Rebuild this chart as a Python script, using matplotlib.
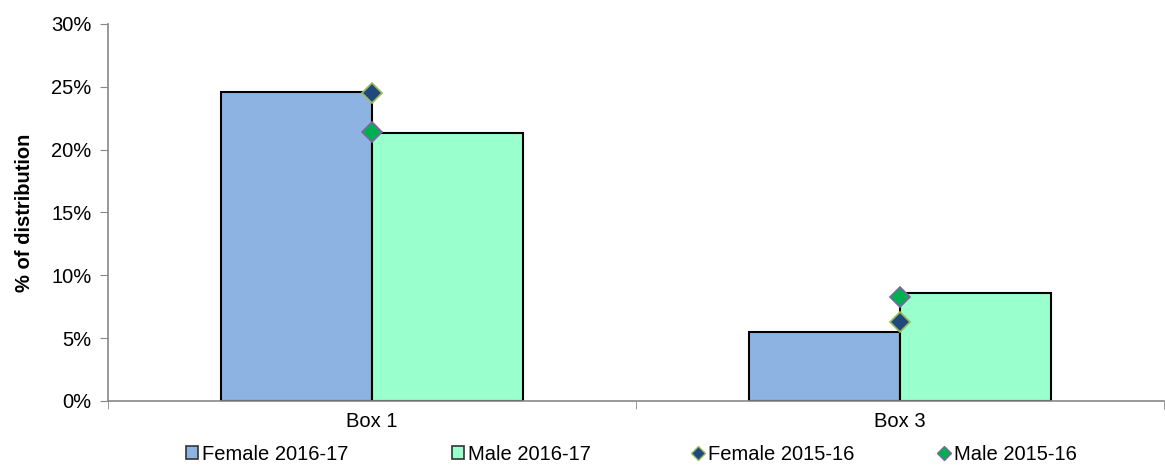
import matplotlib
matplotlib.use("Agg")
import matplotlib.pyplot as plt
from matplotlib.patches import Patch
from matplotlib.lines import Line2D
from matplotlib.ticker import FuncFormatter, MultipleLocator
import numpy as np

plt.rcParams['font.family'] = ['Liberation Sans', 'DejaVu Sans']

categories = ["Box 1", "Box 3"]
female_1617 = [24.6, 5.5]
male_1617 = [21.35, 8.6]
female_1516 = [24.5, 6.3]
male_1516 = [21.4, 8.3]
y_ticks = [0, 5, 10, 15, 20, 25, 30]

FS = 14.5
fig = plt.figure(figsize=(11.65, 4.66), dpi=100)
ax = fig.add_axes([108/1165, 1-401/466, (1164-108)/1165, (401-24)/466])

x = np.arange(len(categories))
w = 0.2855
c_f = '#8DB3E2'
c_m = '#99FFCC'
ax.bar(x - w/2, female_1617, w, color=c_f, edgecolor='black', linewidth=1.5, zorder=2)
ax.bar(x + w/2, male_1617, w, color=c_m, edgecolor='black', linewidth=1.5, zorder=2)
ax.plot(x, female_1516, linestyle='none', marker='D', markersize=10,
        markerfacecolor='#1F497D', markeredgecolor='#9BBB59', markeredgewidth=1.2, zorder=4)
ax.plot(x, male_1516, linestyle='none', marker='D', markersize=10,
        markerfacecolor='#00B050', markeredgecolor='#8064A2', markeredgewidth=1.2, zorder=4)

ax.set_xlim(-0.5, 1.47)
ax.set_ylim(0, 30)
ax.set_yticks(y_ticks)
ax.yaxis.set_major_formatter(FuncFormatter(lambda v, p: f"{int(v)}%"))
ax.set_xticks(x)
ax.set_xticklabels(categories, fontsize=FS)
ax.set_xticks([-0.5, 0.5, 1.5], minor=True)
ax.tick_params(axis='x', which='major', length=0, pad=8)
ax.tick_params(axis='x', which='minor', length=6, direction='out', color='#888888')
ax.tick_params(axis='y', length=6, direction='out', color='#888888', labelsize=FS, pad=6)
for s in ['top', 'right']:
    ax.spines[s].set_visible(False)
for s in ['left', 'bottom']:
    ax.spines[s].set_color('#888888')
    ax.spines[s].set_linewidth(1.2)
ax.set_ylabel('% of distribution', fontsize=FS, fontweight='bold', labelpad=12)

handles = [
    Patch(facecolor=c_f, edgecolor='#333333', linewidth=1.2),
    Patch(facecolor=c_m, edgecolor='#333333', linewidth=1.2),
    Line2D([], [], linestyle='none', marker='D', markersize=7, markerfacecolor='#1F497D',
           markeredgecolor='#9BBB59', markeredgewidth=1),
    Line2D([], [], linestyle='none', marker='D', markersize=7, markerfacecolor='#00B050',
           markeredgecolor='#8064A2', markeredgewidth=1),
]
labels = ["Female 2016-17", "Male 2016-17", "Female 2015-16", "Male 2015-16"]
xpos = [186, 452, 692, 938]
for h, l, xp in zip(handles, labels, xpos):
    fig.legend([h], [l], loc='center left', bbox_to_anchor=(xp/1165, 1-454/466),
               frameon=False, fontsize=FS, handlelength=0.6, handleheight=0.6,
               handletextpad=0.2, borderpad=0, borderaxespad=0)

fig.savefig('out.png', dpi=100)
